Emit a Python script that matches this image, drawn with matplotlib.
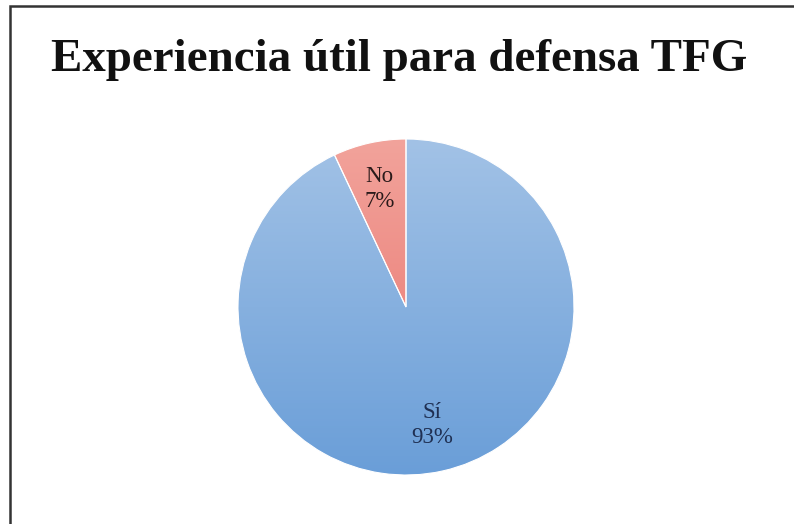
import matplotlib
matplotlib.use("Agg")
import matplotlib.pyplot as plt
import numpy as np
from matplotlib.colors import LinearSegmentedColormap
from matplotlib.patches import Rectangle

title = "Experiencia útil para defensa TFG"
categories = ["Sí", "No"]
values = [93, 7]
top_colors = ["#a2c2e6", "#f2a39b"]
bottom_colors = ["#6a9ed8", "#e8706a"]
label_colors = ["#1f2f52", "#2a1a1a"]

fig = plt.figure(figsize=(7.94, 5.24), dpi=100)
fig.patch.set_facecolor("white")

# border (only top and left visible in reference)
fig.add_artist(Rectangle((10 / 794, -0.1), 1.2, (1 - 6 / 524) + 0.1,
                         transform=fig.transFigure, fill=False,
                         edgecolor="#333333", linewidth=1.8))

fig.text(399 / 794, 1 - 60 / 524, title, ha="center", va="center",
         fontsize=33.8, fontweight="bold", family="Liberation Serif",
         color="#111111")

ax = fig.add_axes([(406 - 168) / 794, (524 - 475) / 524, 336 / 794, 336 / 524])
wedges, _ = ax.pie(values, startangle=90, counterclock=False,
                   wedgeprops=dict(edgecolor="white", linewidth=0.8))
ax.set_xlim(-1, 1)
ax.set_ylim(-1, 1)
ax.set_aspect("equal")
ax.axis("off")

grad = np.linspace(0, 1, 256).reshape(-1, 1)
for w, tc, bc in zip(wedges, top_colors, bottom_colors):
    cmap = LinearSegmentedColormap.from_list("g", [tc, bc])
    im = ax.imshow(grad, cmap=cmap, extent=[-1, 1, -1, 1], origin="upper",
                   aspect="auto", zorder=1)
    im.set_clip_path(w)
    w.set_facecolor("none")
    w.set_zorder(2)

for w, cat, v, lc in zip(wedges, categories, values, label_colors):
    ang = np.deg2rad((w.theta1 + w.theta2) / 2)
    r = 0.72
    ax.text(r * np.cos(ang), r * np.sin(ang), f"{cat}\n{v}%", ha="center",
            va="center", fontsize=16.5, family="Liberation Serif",
            color=lc, linespacing=1.3, zorder=3)

fig.savefig("out.png", dpi=100, facecolor="white")
